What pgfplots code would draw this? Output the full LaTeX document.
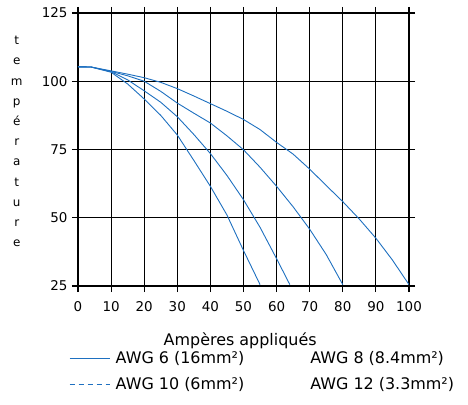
\documentclass[border=0pt]{standalone}
\usepackage{pgfplots}
\pgfplotsset{compat=1.18}
\usepackage{fontspec}
\setmainfont{DejaVu Sans}
\definecolor{curve}{RGB}{30,112,192}

\begin{document}
\begin{tikzpicture}
\useasboundingbox (-78bp,-119bp) rectangle (390bp,286bp);
\begin{axis}[
    at={(0,0)}, anchor=south west,
    scale only axis, width=331bp, height=273bp,
    xmin=0, xmax=100, ymin=25, ymax=125,
    xtick={0,10,...,100}, ytick={25,50,75,100,125},
    grid=major, grid style={black, line width=1.1bp},
    axis line style={black, line width=1.1bp},
    tick style={black, line width=1.1bp},
    tick align=outside, major tick length=6bp,
    /pgf/number format/assume math mode=true,
    tick label style={font=\fontsize{13.5}{16}\selectfont},
    xticklabel style={yshift=-6bp},
    yticklabel style={xshift=-1bp},
    xlabel={Ampères appliqués},
    xlabel style={at={(axis description cs:0.49,-0.2)}, anchor=center, font=\fontsize{16}{19}\selectfont},
    ylabel={t\\e\\m\\p\\é\\r\\a\\t\\u\\r\\e},
    ylabel style={rotate=-90, at={(axis description cs:-0.185,0.529)}, anchor=center, align=center, font=\fontsize{12}{20.3}\selectfont},
    legend columns=2,
    legend cell align=left,
    legend style={at={(axis description cs:-0.036,-0.226)}, anchor=north west, draw=none, fill=none,
        font=\fontsize{16}{19}\selectfont, row sep=8bp},
]

% AWG 6
\addplot[curve, line width=0.9bp,
    legend image code/.code={\draw[curve, line width=0.9bp] (0bp,0bp) -- (40bp,0bp);
        \path[draw=none, fill=none] (40bp,0bp) -- (44bp,0bp);}]
    coordinates {
    (0,105.3) (4,105.2) (10,103.8) (15,102.6) (20,101.3) (25,99.6) (30,97.3)
    (35,94.6) (40,91.8) (45,89) (50,86) (55,82.3) (60,77.6) (65,73.3)
    (70,67.8) (75,61.8) (80,55.9) (85,49.5) (90,42.5) (95,34.5) (100,25.5)
    };
\addlegendentry{AWG 6 (16mm²)}

% AWG 8
\addplot[curve, line width=0.9bp,
    legend image code/.code={\path[draw=none, fill=none] (0bp,0bp) -- (62bp,0bp);}]
    coordinates {
    (0,105.3) (4,105.2) (10,103.6) (15,102) (20,100) (25,96.3) (30,92)
    (35,88.3) (40,84.7) (45,80) (50,74.9) (55,68.5) (60,61.5) (65,54)
    (70,45.8) (75,36.5) (80,25.5)
    };
\addlegendentry{AWG 8 (8.4mm²)}

% AWG 10
\addplot[curve, line width=0.9bp,
    legend image code/.code={\draw[curve, line width=0.9bp, dash pattern=on 5bp off 4bp] (0bp,0bp) -- (40bp,0bp);
        \path[draw=none, fill=none] (40bp,0bp) -- (44bp,0bp);}]
    coordinates {
    (0,105.3) (4,105.2) (10,103.5) (15,100.5) (20,96.5) (25,92.3) (30,87)
    (35,80.5) (40,73.5) (45,65.5) (50,56.6) (55,46.5) (60,35) (64,25.5)
    };
\addlegendentry{AWG 10 (6mm²)}

% AWG 12
\addplot[curve, line width=0.9bp,
    legend image code/.code={\path[draw=none, fill=none] (0bp,0bp) -- (62bp,0bp);}]
    coordinates {
    (0,105.3) (4,105.2) (10,103.3) (15,99) (20,93.5) (25,87.5) (30,80.3)
    (35,71) (40,61.5) (45,51) (50,38) (55,25.5)
    };
\addlegendentry{AWG 12 (3.3mm²)}

\end{axis}
\end{tikzpicture}
\end{document}
